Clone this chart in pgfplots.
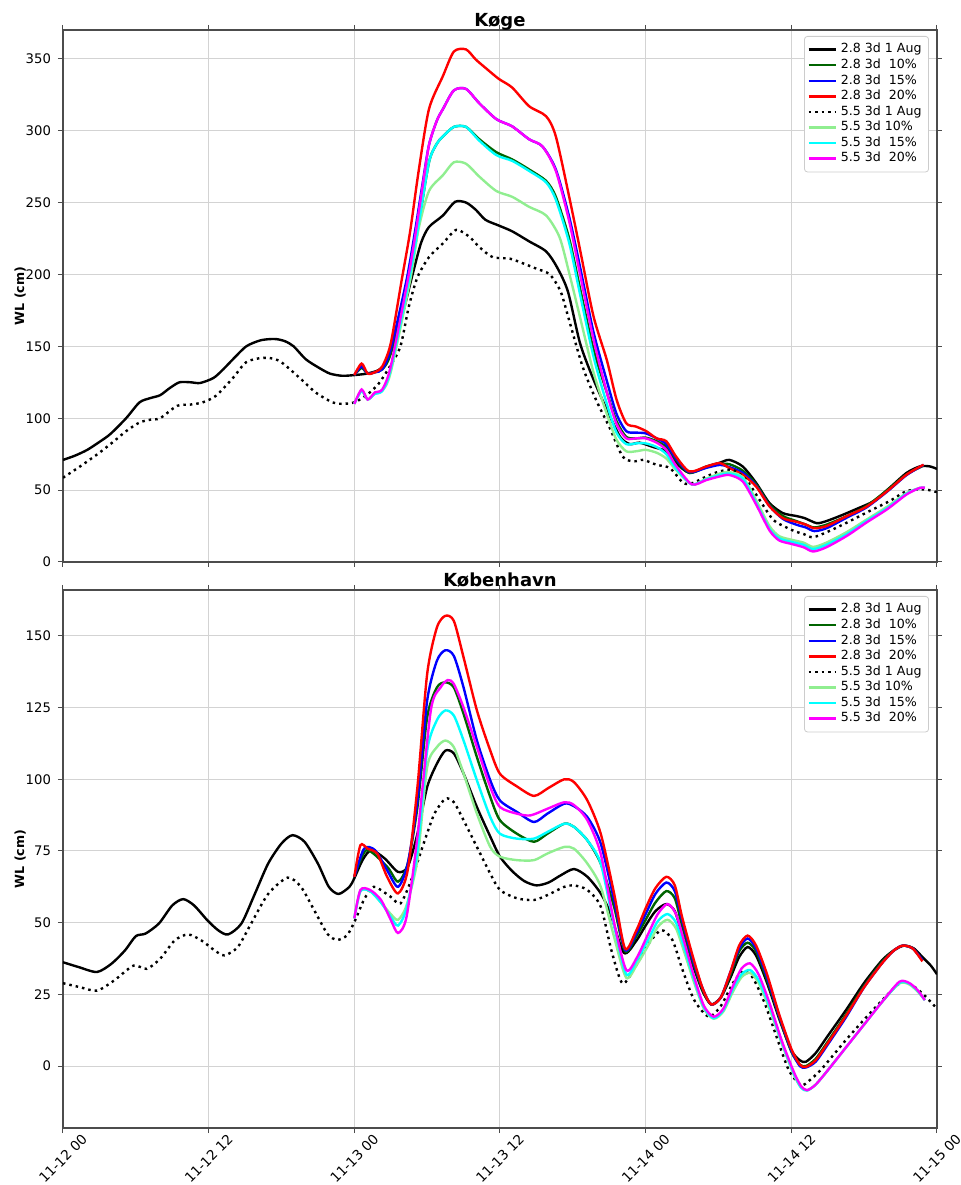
\documentclass[border=0pt]{standalone}
\usepackage{fontspec}
\setmainfont{DejaVu Sans}
\usepackage{pgfplots}
\pgfplotsset{compat=1.18}
\definecolor{dgreen}{HTML}{006400}
\definecolor{lgreen}{HTML}{90EE90}
\definecolor{mcyan}{HTML}{00FFFF}
\definecolor{mmagenta}{HTML}{FF00FF}
\definecolor{mblue}{HTML}{0000FF}
\definecolor{mred}{HTML}{FF0000}
\definecolor{gridc}{HTML}{D3D3D3}

\pgfplotsset{
  wlaxis/.style={
    scale only axis, width=437pt,
    xmin=0, xmax=72, xtick={0,12,...,72},
    grid=major, grid style={gridc, line width=0.5pt},
    axis line style={black!70, line width=0.6pt},
    tick style={black!70, line width=0.5pt},
    tick align=outside, major tick length=2.5pt,
    ticklabel style={font=\fontsize{6.6}{7}\selectfont},
    /pgf/number format/assume math mode=true,
    ylabel={WL (cm)},
    ylabel style={font=\fontsize{6.3}{7}\selectfont\bfseries,
      at={(axis description cs:-0.049,0.5)}, anchor=center},
    title style={font=\fontsize{9}{10}\selectfont\bfseries,
      at={(axis description cs:0.5,1)}, anchor=base, inner sep=0pt, yshift=-4.5pt},
    legend style={at={(axis description cs:1,1)}, anchor=north east,
      xshift=-4pt, yshift=-3pt, draw=black!20, fill=white,
      rounded corners=1.5pt, inner sep=1.5pt, row sep=-2.5pt,
      font=\fontsize{6.3}{7.5}\selectfont},
    legend cell align=left,
    legend image code/.code={\draw[##1] (0pt,0pt) -- (13.5pt,0pt);},
  },
  wl/.style={line width=1.2pt, smooth, tension=0.45, no markers},
  dots/.style={wl, dash pattern=on 1.25pt off 2pt},
}

\begin{document}
\begin{tikzpicture}
\path[use as bounding box] (-31.5pt,-28.5pt) rectangle (449pt,564pt);

% ---------------- Koege ----------------
\begin{axis}[wlaxis, at={(0pt,283pt)}, anchor=south west, height=266pt,
    ymin=0, ymax=370, ytick={0,50,...,350}, xticklabels={},
    title={Køge}]
\addplot[wl, black] coordinates {
 (0,71) (1,74) (2,78) (3,83.5) (3.9,89) (5.2,100) (6.3,111) (7.2,114) (8,116)
 (8.8,121) (9.6,125) (10.5,125) (11.3,124.5) (12.4,128) (13.2,134) (14,141)
 (15.1,150) (16.2,154) (17,155) (17.6,155) (18.3,153.5) (19,150) (20,141)
 (21.1,135) (22,131) (23,129.5) (24,130) (25,131) (26,133.5) (26.7,140)
 (27.4,155) (28,173) (28.8,200) (29.5,222) (30.15,233) (31.3,241) (32.3,250.5)
 (33.2,250) (34,245) (34.8,238) (35.9,234) (37,230) (38.4,223) (39.8,216)
 (40.7,205) (41.6,188) (42.6,152) (43.7,127) (44.8,106) (45.9,87) (46.7,82)
 (47.5,83) (48.6,80) (49.7,77) (50.5,69) (51.6,62) (53,66.4) (54.1,69)
 (54.9,71) (56,66.4) (57.1,55) (58.2,41) (59.3,34) (60.4,32) (61.1,30.5)
 (62.1,27) (62.9,28.5) (64,32) (65.4,37) (66.8,42.4) (68.1,51.6) (69.5,62)
 (70.6,66.5) (71.4,66.5) (72,64.7)};
\addlegendentry{2.8 3d 1 Aug}
\addplot[wl, dgreen] coordinates {
 (24,130) (24.6,135) (25.1,131) (25.7,132) (26.3,134) (27,145) (28.5,196)
 (29.3,235) (30.15,278) (30.8,291) (31.3,296) (32.2,302.6) (33.2,302.6)
 (34.3,294) (35.7,285) (37,280) (38.4,273) (39.8,265) (40.6,254) (41.7,225)
 (42.6,190) (43.7,148) (44.8,118) (45.6,98) (46.4,87) (47.2,86) (48,86.5)
 (48.9,84) (49.7,80) (50.5,71) (51.6,62) (53,66) (54.1,68) (54.9,68) (56,63.5)
 (57.1,54) (58.2,40) (59.3,32) (60.4,28.5) (61.2,26) (61.9,24) (62.9,26)
 (64.6,32) (66.2,39) (67.9,50) (69.5,61) (70.9,67)};
\addlegendentry{2.8 3d~~10\%}
\addplot[wl, mblue] coordinates {
 (24,130) (24.6,136) (25.1,131) (25.7,132) (26.3,134) (27,148) (28.3,196)
 (29,230) (29.6,262) (30.15,290) (30.8,307) (31.3,315) (32.2,328) (33.2,329)
 (34.3,319) (35.7,308) (37,303) (38.4,294) (39.5,289) (40.6,273) (41.7,240)
 (42.6,205) (43.7,160) (44.8,126) (45.6,103) (46.4,91) (47.2,90) (48,89.5)
 (48.9,86) (49.7,82) (50.5,72) (51.6,62.5) (53,65.5) (54.1,67.5) (54.9,66)
 (56,62) (57.1,53) (58.2,39) (59.3,30) (60.4,26) (61.2,24) (61.9,21.5)
 (62.9,23.5) (64.6,31) (66.2,38) (67.9,49) (69.5,60.5) (70.9,67.5)};
\addlegendentry{2.8 3d~~15\%}
\addplot[wl, mred] coordinates {
 (24,130) (24.6,138) (25.1,131) (25.7,132) (26.3,136) (27,152) (27.9,196)
 (28.6,230) (29.3,272) (30.15,315) (31.3,338) (32.2,355) (33.2,356.5)
 (34,349.5) (34.8,343.7) (35.9,336) (37,330) (38.4,317) (39.8,310) (40.6,296)
 (41.7,254) (42.6,217) (43.7,171) (44.8,140.5) (45.6,113) (46.4,96.5)
 (47.2,94.2) (48.05,91) (48.9,86) (49.7,84) (50.5,73.4) (51.6,63) (53,66.4)
 (54.1,68.8) (54.9,65.3) (56,60.6) (57.1,52.5) (58.2,38.7) (59.3,30.5)
 (60.4,28) (61.2,26) (61.9,23.5) (62.9,25) (64.6,32) (66.2,38.5) (67.9,49.3)
 (69.5,60.8) (70.9,67.7)};
\addlegendentry{2.8 3d~~20\%}
\addplot[dots, black] coordinates {
 (0,58.6) (1.5,67) (3,76) (4.2,84) (5.2,91) (6.3,97) (7.2,99) (8,100)
 (9.4,108.6) (10.5,109.5) (11.5,111) (12.6,115.6) (14,128) (15.1,139)
 (16.5,142) (17.8,140) (19.5,128) (20.8,118) (22.2,111) (23,110) (24,111)
 (25,116) (26,124) (27,137) (27.8,150) (28.5,178) (29.2,198) (30.15,212)
 (31.3,221.6) (32.4,231) (33.5,226) (34.3,219) (35.4,212) (36.8,211)
 (37.9,207.7) (39,204) (40.1,200) (41,188) (41.7,168) (42.8,136) (43.9,113)
 (45,94) (46.1,73.4) (47,70) (47.8,71) (48.9,67.6) (50,65.3) (51.1,55)
 (51.9,55) (53,59.5) (54.1,63) (55.2,64) (56.3,57) (57.4,43) (58.5,29.4)
 (59.6,24) (60.4,21) (61,19.5) (61.8,17.2) (63.2,21.8) (64.6,27.5)
 (66.2,34.4) (68.1,42.4) (69.5,49.3) (70.9,50.5) (71.7,49.3) (72,48.5)};
\addlegendentry{5.5 3d 1 Aug}
\addplot[wl, lgreen] coordinates {
 (24,110) (24.6,119) (25.1,113) (25.7,117) (26.3,119) (27,132) (28.6,196)
 (29.3,232) (30.15,258) (31.3,269) (32.2,278) (33.2,277) (34.3,268)
 (35.7,258) (37,254) (38.4,247) (39.8,241) (40.9,226) (41.7,201) (42.6,170)
 (43.7,132) (44.8,103) (45.6,85) (46.4,77) (47.2,77) (48,78) (48.9,76)
 (49.7,72) (50.5,64) (51.8,54) (53,58) (54.1,61.5) (54.9,62.5) (56,59)
 (57.1,43) (58.2,25) (59,18) (60,15.5) (61,13.5) (61.8,10.5) (62.9,13.5)
 (64.6,21) (66.2,29.5) (67.9,38.5) (69.5,48) (70.6,51.5) (71,51.5)};
\addlegendentry{5.5 3d 10\%}
\addplot[wl, mcyan] coordinates {
 (24,110) (24.6,119) (25.1,113) (25.7,117) (26.3,119) (27,134) (28.5,196)
 (29.3,235) (30.15,278) (30.8,291) (31.3,296) (32.2,302.6) (33.2,302.6)
 (34.3,293) (35.7,283) (37,279) (38.4,272) (39.8,264) (40.6,252) (41.7,222)
 (42.6,186) (43.7,143) (44.8,110) (45.6,90) (46.4,82) (47.2,82.5) (48,82.5)
 (48.9,80) (49.7,75) (50.5,65) (51.8,54) (53,57.5) (54.1,60.5) (54.9,61.5)
 (56,58) (57.1,41) (58.2,23) (59,16.5) (60,14) (61,12) (61.8,9) (62.9,12)
 (64.6,19.5) (66.2,28.5) (67.9,37.5) (69.5,47.5) (70.6,51.5) (71,51.5)};
\addlegendentry{5.5 3d~~15\%}
\addplot[wl, mmagenta] coordinates {
 (24,110) (24.6,120) (25.1,113) (25.7,118) (26.3,120) (27,136) (28.4,196)
 (29,226) (29.6,260) (30.15,290) (30.8,307) (31.3,315) (32.2,328) (33.2,329)
 (34.3,319) (35.7,308) (37,303) (38.4,294) (39.5,289) (40.6,272) (41.7,237)
 (42.6,200) (43.7,155) (44.8,118) (45.6,96) (46.4,86) (47.2,86) (48,86)
 (48.9,83) (49.7,78) (50.5,67) (51.8,54) (53,57) (54.1,59.5) (54.9,60.5)
 (56,56) (57.1,40) (58.2,22) (59,15) (60,12.6) (61,10.3) (61.8,7.3)
 (62.9,10.3) (64.6,18.3) (66.2,27.5) (67.9,36.7) (69.5,47) (70.6,51.6)
 (71,51.6)};
\addlegendentry{5.5 3d~~20\%}
\end{axis}

% ---------------- Koebenhavn ----------------
\begin{axis}[wlaxis, at={(0pt,0pt)}, anchor=south west, height=269pt,
    ymin=-21.6, ymax=166, ytick={0,25,...,150},
    xticklabels={11-12 00,11-12 12,11-13 00,11-13 12,11-14 00,11-14 12,11-15 00},
    xticklabel style={font=\fontsize{6.8}{8}\selectfont, yshift=-12.8pt, rotate=45, anchor=center},
    title={København}]
\addplot[wl, black] coordinates {
 (0,36.2) (1.3,34.5) (2.8,32.8) (4,35.7) (5.1,40.3) (6,45.3) (6.8,46.2)
 (7.9,49.7) (9,56) (9.9,58.2) (10.8,56) (11.9,50.8) (12.8,47.3) (13.6,45.9)
 (14.7,49.7) (15.8,60) (16.9,70.6) (18,77.6) (18.9,80.5) (19.9,78.2) (21,70.6)
 (21.9,62.5) (22.7,60) (23.6,62.5) (24,65.5) (24.7,72) (25.4,75.3) (26.5,72.4)
 (27.6,67.7) (28.4,69.5) (29.2,81) (30,97.3) (30.8,105.4) (31.5,110)
 (32.2,109) (33,102) (34.1,90.3) (35.2,80) (36,73) (37,68) (38,64.5) (39,63)
 (40,64) (41,66.5) (42.1,68.7) (43.2,66) (44.3,60.2) (45.1,53.2) (46.2,39.5)
 (47.2,43.5) (48,49) (48.8,54) (49.7,56.5) (50.4,54) (51,46) (51.9,35)
 (52.7,26) (53.4,21.5) (54.2,24) (55,31) (55.7,38) (56.4,41.5) (57.1,38.5)
 (58,29) (59,16.5) (60,5.5) (60.7,2) (61.2,1.5) (62,4.5) (63,10.5)
 (64.5,19.5) (66,29) (67.5,37) (68.5,40.5) (69.3,42) (70.1,41) (70.8,38)
 (71.5,35) (72,32)};
\addlegendentry{2.8 3d 1 Aug}
\addplot[wl, dgreen] coordinates {
 (24,66) (25,75.3) (26.7,69.5) (27.6,64.3) (28.4,70.6) (29.2,90.3) (30,121.6)
 (30.8,132) (31.5,133.8) (32.2,132) (33,122.8) (34.1,107.7) (35.2,93.8)
 (36,85.7) (37.4,81) (38.8,78.2) (39.9,81) (41.3,84.5) (42.1,83.4) (43.2,78.7)
 (44.3,70.6) (45.4,55.5) (46.3,40) (47.2,45) (48,51) (48.8,57) (49.7,61)
 (50.4,58.5) (51,49) (51.9,36) (52.7,26.5) (53.4,21.5) (54.2,24) (55,32)
 (55.7,40) (56.4,43) (57.1,40) (58,30) (59,17) (60,5) (60.7,0.5) (61.2,0)
 (62,2.5) (63,8.5) (64.5,18) (66,28) (67.5,36.5) (68.5,40.5) (69.2,42)
 (70,41) (70.8,37)};
\addlegendentry{2.8 3d~~10\%}
\addplot[wl, mblue] coordinates {
 (24,66) (24.8,75.8) (25.7,75.3) (26.7,68.3) (27.6,62.5) (28.4,70.6)
 (29.2,92.6) (30,127.4) (30.8,141.3) (31.5,145) (32.2,143) (33,132)
 (34.1,113.5) (35.2,99.6) (36,92.6) (37.4,88.6) (38.8,85.1) (39.9,88)
 (41.3,91.5) (42.1,90.6) (43.2,86.8) (44.3,77.6) (45.4,57.9) (46.3,40.5)
 (47.2,46) (48,53) (48.8,60) (49.7,64) (50.4,61) (51,51) (51.9,37) (52.7,27)
 (53.4,21.5) (54.2,24) (55,33) (55.7,41) (56.4,44.5) (57.1,41) (58,31)
 (59,17.5) (60,5.5) (60.7,0) (61.2,-0.5) (62,1.5) (63,7.5) (64.5,17)
 (66,27.5) (67.5,36) (68.5,40.5) (69.2,42) (70,41) (70.8,37)};
\addlegendentry{2.8 3d~~15\%}
\addplot[wl, mred] coordinates {
 (24,66) (24.5,77) (25.1,75.8) (25.9,74) (26.7,66) (27.6,60.2) (28.4,68.3)
 (29.2,97.3) (30,136.7) (30.8,152.9) (31.5,157) (32.2,155.2) (33,142.5)
 (34.1,124) (35.2,110) (36,101.9) (37.4,97.5) (38.8,94.2) (40,97) (41.3,100)
 (42.1,99) (43.2,92.6) (44.3,81) (45.4,60.2) (46.3,41) (47.2,47) (48,55)
 (48.8,62) (49.7,66) (50.4,63) (51,52) (51.9,38) (52.7,27) (53.4,21.5)
 (54.2,24) (55,33) (55.7,42) (56.4,45.5) (57.1,42) (58,32) (59,18) (60,6)
 (60.7,0.5) (61.2,-0.3) (62,2) (63,8) (64.5,17.5) (66,27.5) (67.5,36)
 (68.5,40.5) (69.2,42) (70,41) (70.8,36.5)};
\addlegendentry{2.8 3d~~20\%}
\addplot[dots, black] coordinates {
 (0,28.9) (1.4,27.5) (2.8,26.3) (4.2,29.8) (5.8,35) (6.9,33.9) (8,37.4)
 (9.2,43.8) (10.3,45.9) (11.4,43.8) (12.5,40.3) (13.3,38.6) (14.4,41.5)
 (15.5,49.7) (16.9,60) (18.5,65.7) (19.6,62.5) (20.7,54.3) (21.8,46)
 (22.6,44) (23.4,45.6) (24,50.2) (24.8,58) (25.6,62.5) (27,59) (27.8,56.7)
 (28.7,65) (29.8,78.7) (30.6,88) (31.5,93.2) (32.2,92) (33,85.7) (34.1,76.4)
 (35.2,67.1) (36,61.4) (37.4,58.5) (38.8,57.9) (39.9,59.6) (41.3,62.5)
 (42.1,63) (43.2,61.4) (44.3,55.6) (45.2,40) (46.1,28.8) (47.2,35) (48.3,43)
 (49.3,47.4) (50.2,44) (51,34) (52,23) (53.2,17.2) (54.2,21) (55.2,29)
 (56,33) (56.8,31) (57.8,22) (58.8,10) (59.8,-1.5) (60.8,-6.6) (61.5,-5)
 (62.5,-1) (64.5,9.1) (66.5,18.5) (68.9,28.8) (70,28) (71,24.5) (72,20)};
\addlegendentry{5.5 3d 1 Aug}
\addplot[wl, lgreen] coordinates {
 (24,51.5) (24.5,61) (25.3,61) (26.2,57) (27,53) (27.6,51) (28.3,56)
 (29.2,72) (30,104.2) (30.8,111.2) (31.5,113.5) (32.2,111.2) (33,102)
 (34.1,88) (35.2,76.4) (36,73) (37.4,71.8) (38.8,71.8) (39.9,74.1)
 (41.3,76.4) (42.1,75.8) (43.2,70.6) (44.3,62.5) (45.4,45) (46.4,30.8)
 (47.3,35.5) (48.2,42) (49,48.5) (49.8,51) (50.5,48) (51.2,39.5) (52,29)
 (52.8,20) (53.6,16.5) (54.4,19) (55.2,26) (55.9,31) (56.6,32.5) (57.3,29)
 (58.2,20) (59.2,8) (60.2,-3) (60.8,-7.5) (61.3,-8.5) (62,-6.5) (63,-1.5)
 (64.5,6.5) (66,14.5) (67.5,22.5) (68.9,28.8) (69.7,28.5) (70.4,26) (71,23)};
\addlegendentry{5.5 3d 10\%}
\addplot[wl, mcyan] coordinates {
 (24,51.5) (24.5,61) (25.3,61) (26.2,57) (27,52) (27.6,49) (28.3,55)
 (29.2,75) (30,110) (30.8,120.6) (31.5,124) (32.2,122.2) (33,113.5)
 (34.1,99.6) (35.2,86.8) (36,81) (37.4,79.3) (38.8,79.3) (39.9,81.6)
 (41.3,84.5) (42.1,83.4) (43.2,78.7) (44.3,70.6) (45.4,49) (46.4,32)
 (47.3,37) (48.2,44) (49,50.5) (49.8,53) (50.5,50) (51.2,41) (52,30)
 (52.8,20.5) (53.6,16.7) (54.4,19.5) (55.2,27) (55.9,32) (56.6,33.5)
 (57.3,30) (58.2,21) (59.2,8.5) (60.2,-2.5) (60.8,-7.5) (61.3,-8.5) (62,-6.5)
 (63,-1.5) (64.5,6.5) (66,14.5) (67.5,22.5) (68.9,29) (69.7,28.8) (70.4,26.3)
 (71,23)};
\addlegendentry{5.5 3d~~15\%}
\addplot[wl, mmagenta] coordinates {
 (24,51.5) (24.5,61.4) (25.3,61.4) (26.2,57.9) (27,51) (27.6,46.4) (28.3,52)
 (29.2,80) (30.3,124) (31.1,132) (31.7,134.6) (32.2,133.2) (33,125)
 (34.1,111.2) (35.2,97.3) (36,90.3) (37.4,88) (38.5,87.4) (39.9,89.7)
 (41.3,92) (42.1,91) (43.2,85.7) (44.3,74) (45.4,50) (46.4,33.5) (47.3,38)
 (48.2,46) (49,53) (49.8,56.5) (50.5,53) (51.2,43) (52,31) (52.8,21)
 (53.6,17.2) (54.4,20) (55.2,28) (55.9,34) (56.6,35.8) (57.3,32) (58.2,22)
 (59.2,9) (60.2,-2) (60.8,-7) (61.3,-8.4) (62,-6.5) (63,-1.5) (64.5,6.5)
 (66,14.5) (67.5,22.5) (68.9,29.4) (69.7,29) (70.4,26.5) (71,23)};
\addlegendentry{5.5 3d~~20\%}
\end{axis}
\end{tikzpicture}
\end{document}
